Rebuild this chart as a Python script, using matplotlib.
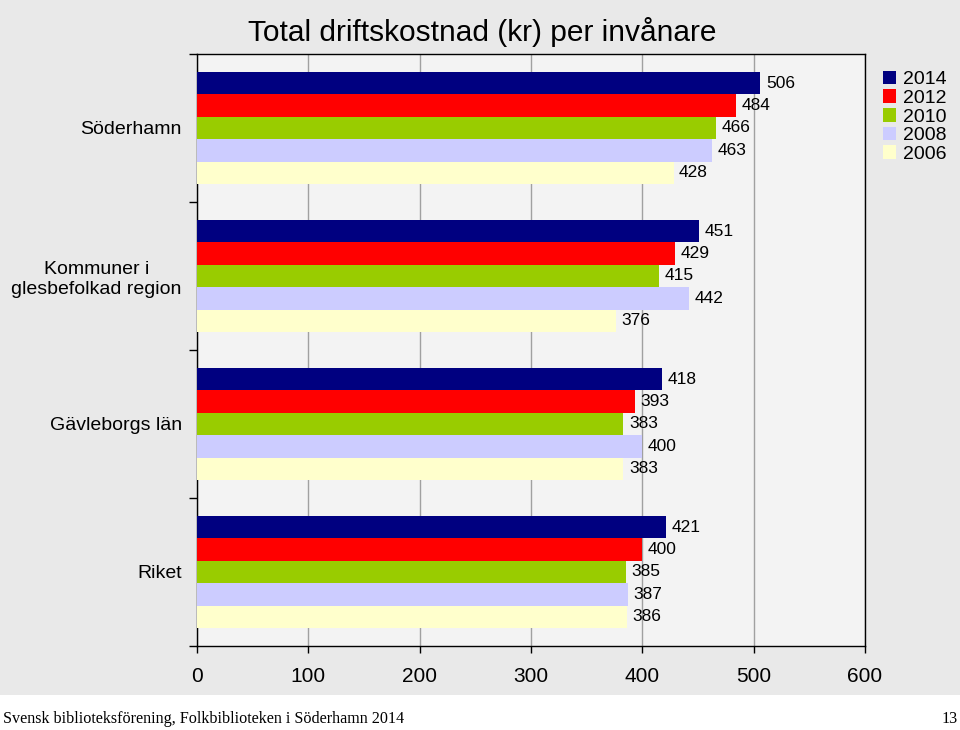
import numpy as np
import matplotlib.pyplot as plt
from matplotlib.patches import Rectangle

plt.rcParams['font.family'] = ['Liberation Sans', 'DejaVu Sans']

CATEGORIES = ["Söderhamn", "Kommuner i\nglesbefolkad region", "Gävleborgs län", "Riket"]
YEARS = ["2014", "2012", "2010", "2008", "2006"]
V2014 = [506, 451, 418, 421]
V2012 = [484, 429, 393, 400]
V2010 = [466, 415, 383, 385]
V2008 = [463, 442, 400, 387]
V2006 = [428, 376, 383, 386]
SERIES = [V2014, V2012, V2010, V2008, V2006]
COLORS = ["#000080", "#ff0000", "#99cc00", "#ccccff", "#ffffcc"]
XTICKS = [0, 100, 200, 300, 400, 500, 600]

fig = plt.figure(figsize=(9.6, 7.3), dpi=100, facecolor="white")
# grey slide background above the footer
fig.patches.append(Rectangle((0, 35 / 730), 1, 1, transform=fig.transFigure,
                             facecolor="#e9e9e9", edgecolor="none", zorder=-10))

ax = fig.add_axes([197 / 960, 84 / 730, 668 / 960, 592 / 730])
ax.set_facecolor("#f3f3f3")

h = 0.152
y = np.arange(len(CATEGORIES))
for j, (vals, col, yr) in enumerate(zip(SERIES, COLORS, YEARS)):
    bars = ax.barh(y + (j - 2) * h, vals, height=h, color=col, label=yr, zorder=3)
    ax.bar_label(bars, padding=4, fontsize=12.5, zorder=4)

ax.set_xlim(0, 600)
ax.set_ylim(len(CATEGORIES) - 0.5, -0.5)
ax.set_xticks(XTICKS)
ax.tick_params(axis="x", labelsize=15, length=5, width=1, direction="out", pad=10)
ax.grid(axis="x", color="#a0a0a0", linewidth=1, zorder=1)

# category boundaries as major ticks, names as minor ticks
ax.set_yticks(np.arange(-0.5, len(CATEGORIES), 1.0))
ax.set_yticklabels([])
ax.tick_params(axis="y", which="major", length=6, width=1, direction="out")
ax.set_yticks(y, minor=True)
ax.set_yticklabels(CATEGORIES, minor=True, fontsize=14, multialignment="center")
ax.tick_params(axis="y", which="minor", length=0, pad=11)

for s in ax.spines.values():
    s.set_color("black")
    s.set_linewidth(1)

fig.legend(loc="upper left", bbox_to_anchor=(875 / 960, 667 / 730), frameon=False,
           fontsize=14, handlelength=0.7, handleheight=0.7, handletextpad=0.35,
           labelspacing=0.05, borderaxespad=0)

fig.text(482 / 960, 698 / 730, "Total driftskostnad (kr) per invånare",
         ha="center", va="center", fontsize=21.5)

fig.text(3 / 960, 11 / 730, "Svensk biblioteksförening, Folkbiblioteken i Söderhamn 2014",
         ha="left", va="center", fontsize=11.6, family="Liberation Serif")
fig.text(958 / 960, 11 / 730, "13", ha="right", va="center", fontsize=11.6,
         family="Liberation Serif")

fig.savefig("out.png", dpi=100)
